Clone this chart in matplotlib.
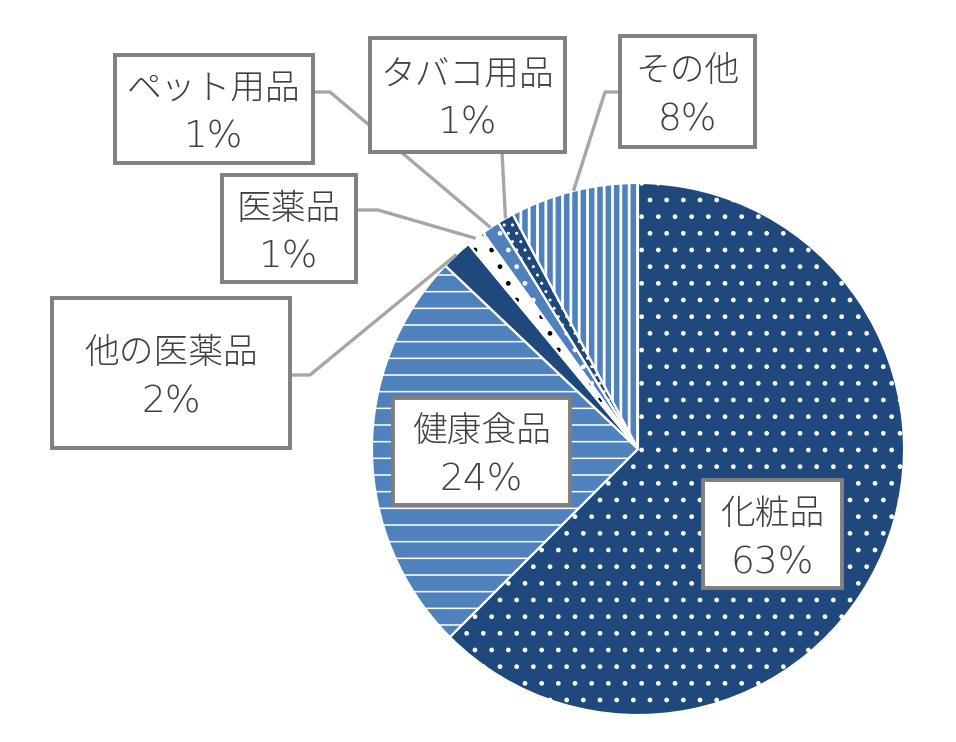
import numpy as np
import matplotlib.pyplot as plt
from matplotlib.patches import Rectangle

plt.rcParams['font.family'] = ['Noto Sans CJK JP', 'DejaVu Sans']
plt.rcParams['hatch.linewidth'] = 1.4

# data (clockwise from 12 o'clock)
labels = ['化粧品', '健康食品', '他の医薬品', '医薬品', 'ペット用品', 'タバコ用品', 'その他']
values = [62.5, 24.6, 1.9, 1.1, 1.1, 1.0, 7.8]
pct_text = ['63%', '24%', '2%', '1%', '1%', '1%', '8%']

NAVY = '#1F497D'
BLUE = '#4F81BD'
faces = [NAVY, BLUE, NAVY, 'white', BLUE, NAVY, BLUE]
hatch_col = ['white', 'white', NAVY, 'black', 'white', 'white', 'white']
hatches = ['.', '-', None, '.', '.', '..', '||']
hatch_lw = [1.0, 1.1, 1.0, 1.0, 1.0, 1.0, 2.0]

# pixel layout helpers
CX, CY, R = 638, 449, 266
W, H = 956, 742

def px(x, y):
    return ((x - CX) / R, (CY - y) / R)

# label boxes: left, top, right, bottom (pixels)
boxes = {
    '化粧品': (703, 480, 842, 588),
    '健康食品': (393, 398, 570, 505),
    '他の医薬品': (52, 298, 290, 448),
    '医薬品': (222, 175, 356, 282),
    'ペット用品': (115, 55, 313, 163),
    'タバコ用品': (370, 38, 565, 152),
    'その他': (620, 36, 755, 147),
}
# leader lines: start at box, optional elbow
leaders = {
    '他の医薬品': [(290, 375), (310, 375)],
    '医薬品': [(356, 210), (378, 210)],
    'ペット用品': [(313, 92), (330, 92)],
    'タバコ用品': [(502, 152)],
    'その他': [(620, 92), (605, 92)],
}

fig = plt.figure(figsize=(W / 100, H / 100), dpi=100)
ax = fig.add_axes([0, 0, 1, 1])

wedges, _ = ax.pie(values, startangle=90, counterclock=False, radius=1,
                   center=(0, 0), colors=faces,
                   wedgeprops=dict(linewidth=0))
for w, ec, h, hl in zip(wedges, hatch_col, hatches, hatch_lw):
    w.set_edgecolor(ec)
    w.set_linewidth(0)
    if h:
        w.set_hatch(h)
        if hasattr(w, 'set_hatch_linewidth'):
            w.set_hatch_linewidth(hl)
    w.set_zorder(1)

# white separators
sep, _ = ax.pie(values, startangle=90, counterclock=False, radius=1,
                center=(0, 0), colors=['none'] * len(values),
                wedgeprops=dict(linewidth=1.5, edgecolor='white'))
for s in sep:
    s.set_facecolor('none')
    s.set_zorder(2)

# mid angles of slices (clockwise from top)
cum = np.cumsum([0] + values)
total = cum[-1]
mids = {lab: (cum[i] + cum[i + 1]) / 2 / total * 2 * np.pi for i, lab in enumerate(labels)}

for lab, pts in leaders.items():
    a = mids[lab]
    end = (np.sin(a), np.cos(a))
    xy = [px(*p) for p in pts] + [end]
    xs, ys = zip(*xy)
    ax.plot(xs, ys, color='#A6A6A6', lw=2.4, zorder=3, solid_capstyle='butt')

for lab, pct in zip(labels, pct_text):
    l, t, r, b = boxes[lab]
    x0, y1 = px(l, t)
    x1, y0 = px(r, b)
    ax.add_patch(Rectangle((x0, y0), x1 - x0, y1 - y0, facecolor='white',
                           edgecolor='#7F7F7F', lw=2.8, zorder=4))
    xc = (l + r) / 2
    yc = (t + b) / 2
    ax.text(*px(xc, yc - 10), lab, ha='center', va='baseline',
            fontsize=25, color='#404040', zorder=5, fontweight='light')
    ax.text(*px(xc, yc + 39), pct, ha='center', va='baseline',
            fontsize=27, color='#404040', zorder=5,
            family=['DejaVu Sans'], fontweight='light')

ax.set_xlim(-CX / R, (W - CX) / R)
ax.set_ylim(-(H - CY) / R, CY / R)
ax.set_aspect('equal')
ax.axis('off')

fig.savefig('out.png', dpi=100, facecolor='white')
